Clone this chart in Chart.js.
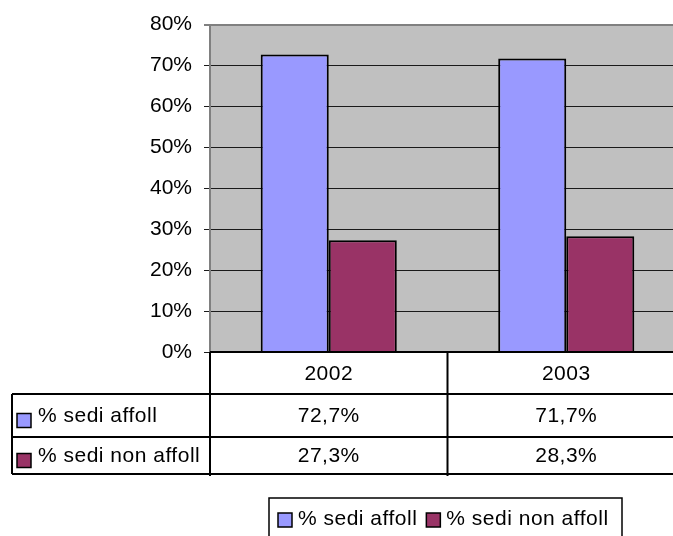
<!DOCTYPE html>
<html>
<head>
<meta charset="utf-8">
<script src="https://cdn.jsdelivr.net/npm/chart.js@4/dist/chart.umd.min.js"></script>
<style>
  html, body { margin: 0; padding: 0; background: #fff; overflow: hidden; }
  #wrap { width: 673px; height: 536px; overflow: hidden; }
</style>
</head>
<body>
<div id="wrap"><canvas id="chart" width="690" height="536"></canvas></div>
<script>
// Dati del grafico
const years = ['2002', '2003'];
const seriesNames = ['% sedi affoll', '% sedi non affoll'];
const sediAffoll = [72.7, 71.7];
const sediNonAffoll = [27.3, 28.3];
const seriesColors = ['#9999FF', '#993366'];

const FONT = 'Arial, "Liberation Sans", sans-serif';
const FS = 21;

// Formatta i valori come nella tabella (virgola decimale)
function fmt(v) {
    return v.toFixed(1).replace('.', ',') + '%';
}

// Sfondo grigio dell'area del grafico
const plotBg = {
    id: 'plotBg',
    beforeDraw(chart) {
        const { ctx, chartArea: a } = chart;
        ctx.save();
        ctx.fillStyle = '#C0C0C0';
        ctx.fillRect(a.left, a.top, a.right - a.left, a.bottom - a.top);
        ctx.restore();
    }
};

// Tabella dati sotto l'asse + legenda
const dataTable = {
    id: 'dataTable',
    afterDraw(chart) {
        const { ctx, chartArea: a } = chart;
        const x = chart.scales.x;
        const rowTop = a.bottom;
        const rows = [rowTop, 394, 437, 474];
        const tableLeft = 12;
        const right = a.right;
        const sep = (x.getPixelForValue(0) + x.getPixelForValue(1)) / 2;
        const allData = [sediAffoll, sediNonAffoll];

        ctx.save();
        ctx.strokeStyle = '#000';
        ctx.lineWidth = 2;
        ctx.beginPath();
        // linee orizzontali
        ctx.moveTo(a.left, rows[0]); ctx.lineTo(right, rows[0]);
        for (let i = 1; i < rows.length; i++) {
            ctx.moveTo(tableLeft, rows[i]); ctx.lineTo(right, rows[i]);
        }
        // linee verticali
        ctx.moveTo(tableLeft, rows[1]); ctx.lineTo(tableLeft, rows[3]);
        ctx.moveTo(a.left, rows[0]); ctx.lineTo(a.left, rows[3] + 2);
        ctx.moveTo(sep, rows[0]); ctx.lineTo(sep, rows[3] + 2);
        ctx.stroke();

        ctx.font = FS + 'px ' + FONT;
        ctx.letterSpacing = '0.5px';
        ctx.fillStyle = '#000';
        ctx.textBaseline = 'middle';
        ctx.textAlign = 'center';
        years.forEach((y, i) => {
            const cx = x.getPixelForValue(i);
            ctx.fillText(y, cx, (rows[0] + rows[1]) / 2 + 1);
            allData.forEach((arr, s) => {
                ctx.fillText(fmt(arr[i]), cx, (rows[s + 1] + rows[s + 2]) / 2 + 1);
            });
        });

        // etichette di riga con quadratino colorato
        ctx.textAlign = 'left';
        seriesNames.forEach((name, s) => {
            const cy = (rows[s + 1] + rows[s + 2]) / 2;
            ctx.fillStyle = seriesColors[s];
            ctx.fillRect(17, cy - 2, 14, 14);
            ctx.lineWidth = 1.5;
            ctx.strokeRect(17, cy - 2, 14, 14);
            ctx.fillStyle = '#000';
            ctx.fillText(name, 38, cy + 1);
        });

        // legenda in basso
        const lg = { left: 269, top: 498, right: 622, bottom: 545 };
        ctx.lineWidth = 1.5;
        ctx.strokeRect(lg.left, lg.top, lg.right - lg.left, lg.bottom - lg.top);
        let lx = 278;
        const ly = 519;
        seriesNames.forEach((name, s) => {
            ctx.fillStyle = seriesColors[s];
            ctx.fillRect(lx, ly - 6, 14, 14);
            ctx.strokeRect(lx, ly - 6, 14, 14);
            ctx.fillStyle = '#000';
            ctx.fillText(name, lx + 20, ly);
            lx += 20 + ctx.measureText(name).width + 9;
        });
        ctx.restore();
    }
};

new Chart(document.getElementById('chart'), {
    type: 'bar',
    data: {
        labels: years,
        datasets: [
            { label: seriesNames[0], data: sediAffoll, backgroundColor: seriesColors[0] },
            { label: seriesNames[1], data: sediNonAffoll, backgroundColor: seriesColors[1] }
        ]
    },
    options: {
        responsive: false,
        animation: false,
        devicePixelRatio: 1,
        layout: { padding: { top: 24, bottom: 184, left: 0, right: 5 } },
        datasets: {
            bar: {
                borderColor: '#000',
                borderWidth: 2,
                barPercentage: 1,
                categoryPercentage: 0.573
            }
        },
        plugins: {
            legend: { display: false },
            tooltip: { enabled: false }
        },
        scales: {
            x: {
                afterFit(scale) { scale.height = 0; },
                ticks: { display: false },
                grid: { display: false },
                border: { display: true, color: '#000', width: 2 }
            },
            y: {
                min: 0,
                max: 80,
                afterFit(scale) { scale.width = 210; },
                ticks: {
                    stepSize: 10,
                    padding: 12,
                    color: '#000',
                    font: { family: FONT, size: FS },
                    callback: v => v + '%'
                },
                grid: {
                    tickLength: 6,
                    color: ctx => ctx.tick && ctx.tick.value === 80 ? '#808080' : '#1a1a1a',
                    lineWidth: ctx => ctx.tick && ctx.tick.value === 80 ? 2 : 1
                },
                border: { color: '#808080', width: 2 }
            }
        }
    },
    plugins: [plotBg, dataTable]
});
</script>
</body>
</html>
